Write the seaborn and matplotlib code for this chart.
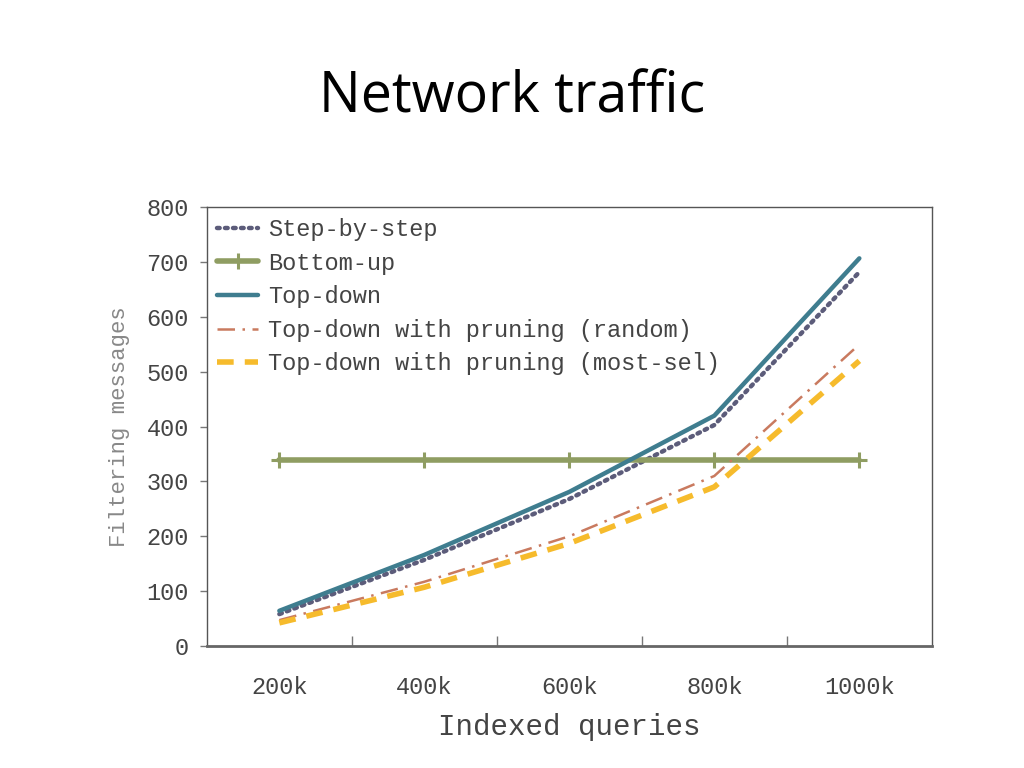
import numpy as np
import pandas as pd
import matplotlib.pyplot as plt
import seaborn as sns

# indexed queries (thousands)
queries = [200, 400, 600, 800, 1000]
step_by_step = [58, 157, 268, 403, 682]
bottom_up = [340, 340, 340, 340, 340]
top_down = [64, 166, 281, 420, 707]
pruning_random = [47, 117, 200, 310, 550]
pruning_most_sel = [42, 107, 187, 290, 520]

series_names = ['Step-by-step', 'Bottom-up', 'Top-down',
                'Top-down with pruning (random)', 'Top-down with pruning (most-sel)']
series_values = [step_by_step, bottom_up, top_down, pruning_random, pruning_most_sel]

df = pd.DataFrame({
    'queries': np.tile(queries, len(series_names)),
    'messages': np.concatenate(series_values),
    'series': np.repeat(series_names, len(queries)),
})

styles = {
    'Step-by-step': dict(color='#5c5c7a', linestyle=(0, (0.6, 1.2)), linewidth=3.2, dash_capstyle='round'),
    'Bottom-up': dict(color='#8f9d62', linestyle='-', linewidth=4, marker='+', markersize=11,
                      markeredgewidth=2.2, markeredgecolor='#8f9d62'),
    'Top-down': dict(color='#3f7d8f', linestyle='-', linewidth=3.2),
    'Top-down with pruning (random)': dict(color='#c97a5f', linestyle=(0, (7, 3, 1, 3)), linewidth=1.8),
    'Top-down with pruning (most-sel)': dict(color='#f6bb2c', linestyle=(0, (3, 2)), linewidth=4),
}

sns.set_style('white')
mono = 'Liberation Mono'

fig = plt.figure(figsize=(10.24, 7.68), dpi=100)
ax = fig.add_axes([0.202, 0.159, 0.708, 0.571])

for name in series_names:
    sub = df[df['series'] == name]
    sns.lineplot(data=sub, x='queries', y='messages', ax=ax, label=name, **styles[name])

ax.set_xlim(100, 1100)
ax.set_ylim(0, 800)
ax.set_xticks(queries)
ax.set_xticklabels([f'{q}k' for q in queries], fontfamily=mono, fontsize=17, color='#444444')
ax.set_xticks([300, 500, 700, 900], minor=True)
ax.tick_params(axis='x', which='major', bottom=True, length=0, pad=22)
ax.tick_params(axis='x', which='minor', bottom=True, direction='in', length=7, color='#777777', width=1)
ax.set_yticks(range(0, 801, 100))
ax.set_yticklabels([str(v) for v in range(0, 801, 100)], fontfamily=mono, fontsize=17, color='#444444')
ax.tick_params(axis='y', left=True, direction='out', length=5, color='#777777', width=1, pad=8)

ax.set_xlabel('Indexed queries', fontfamily=mono, fontsize=21, color='#444444', labelpad=10)
ax.set_ylabel('Filtering messages', fontfamily=mono, fontsize=16, color='#888888', labelpad=12)

for side in ['left', 'right', 'top']:
    ax.spines[side].set_color('#555555')
    ax.spines[side].set_linewidth(1)
ax.spines['bottom'].set_color('#666666')
ax.spines['bottom'].set_linewidth(2)

leg = ax.legend(loc='upper left', frameon=False, prop={'family': mono, 'size': 17},
                handlelength=1.7, handletextpad=0.45, labelspacing=0.45,
                borderaxespad=0.2, borderpad=0.25)
for t in leg.get_texts():
    t.set_color('#444444')

fig.text(0.5, 0.872, 'Network traffic', ha='center', va='center',
         fontfamily='Open Sans', fontsize=40, color='black')

fig.savefig('out.png', dpi=100)
